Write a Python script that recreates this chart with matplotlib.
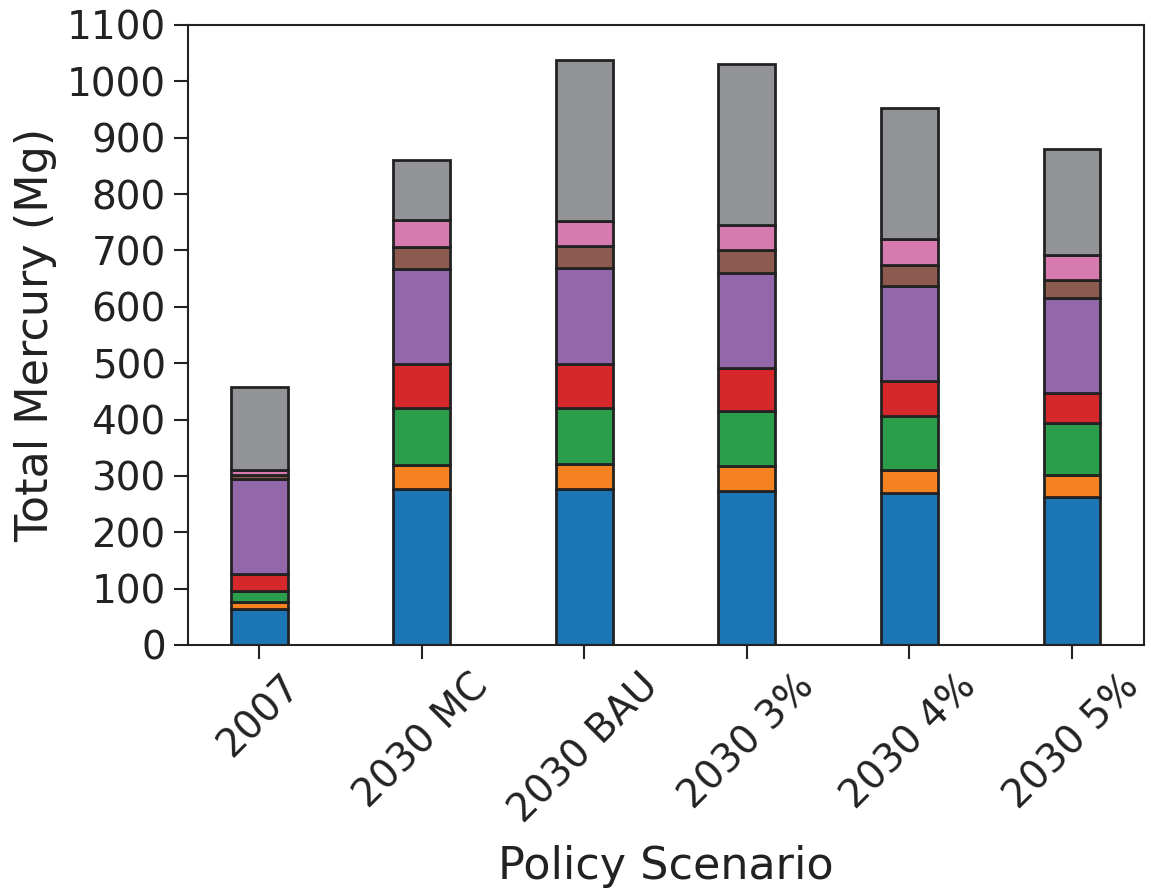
import numpy as np
import matplotlib
matplotlib.use("Agg")
import matplotlib.pyplot as plt

# Policy scenarios on the x axis
scenarios = ["2007", "2030 MC", "2030 BAU", "2030 3%", "2030 4%", "2030 5%"]

# Stacked segment values (Mg), bottom to top
seg1 = [64, 277, 276, 274, 269, 262]   # blue
seg2 = [12, 43, 46, 44, 42, 40]        # orange
seg3 = [20, 100, 98, 98, 96, 91]       # green
seg4 = [30, 78, 78, 76, 62, 54]        # red
seg5 = [168, 169, 170, 168, 168, 168]  # purple
seg6 = [7, 40, 40, 40, 38, 33]         # brown
seg7 = [9, 47, 45, 45, 45, 44]         # pink
seg8 = [148, 106, 285, 285, 233, 188]  # gray

segments = [seg1, seg2, seg3, seg4, seg5, seg6, seg7, seg8]
colors = ["#1c75b4", "#f58220", "#2a9e4a", "#d6282b",
          "#9268ab", "#8c5a4e", "#d67ab0", "#929397"]

text_color = "#222222"
plt.rcParams["font.family"] = "DejaVu Sans"

fig = plt.figure(figsize=(11.51, 8.92), dpi=100)
ax = fig.add_axes([188 / 1151, 1 - 645 / 892, (1144 - 188) / 1151, (645 - 25) / 892])

x = np.arange(len(scenarios))
bottom = np.zeros(len(scenarios))
for vals, c in zip(segments, colors):
    ax.bar(x, vals, width=0.35, bottom=bottom, color=c,
           edgecolor="#222222", linewidth=2.0)
    bottom += np.array(vals)

ax.set_ylim(0, 1100)
ax.set_yticks(np.arange(0, 1101, 100))
ax.set_xlim(-0.437, 5.443)
ax.set_xticks(x)
ax.set_xticklabels(scenarios, rotation=45)

ax.tick_params(axis="both", labelsize=28, length=10, width=1.5,
               colors=text_color, labelcolor=text_color, pad=6)
for sp in ax.spines.values():
    sp.set_linewidth(1.5)
    sp.set_color(text_color)

ax.set_ylabel("Total Mercury (Mg)", fontsize=32, color=text_color, labelpad=7)
ax.set_xlabel("Policy Scenario", fontsize=32, color=text_color, labelpad=10)

fig.savefig("out.png", dpi=100)
plt.close(fig)
